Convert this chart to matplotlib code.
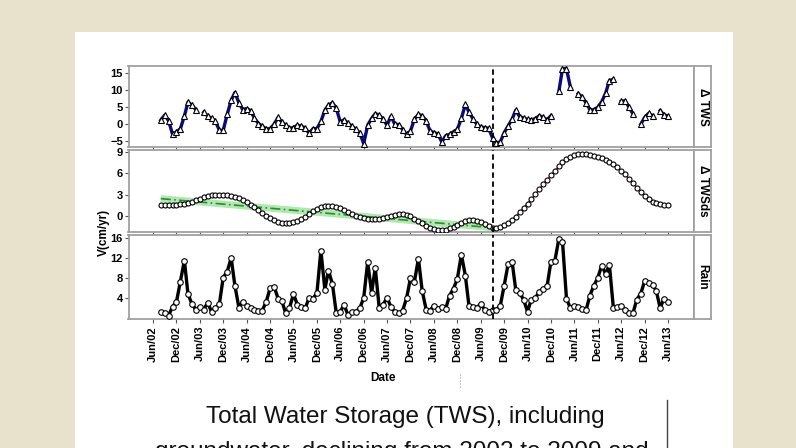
import numpy as np
import pandas as pd
import matplotlib
matplotlib.use("Agg")
import matplotlib.pyplot as plt
from matplotlib.patches import Rectangle
from matplotlib.lines import Line2D

plt.rcParams['font.family'] = ['Liberation Sans', 'DejaVu Sans']

# monthly series, Aug 2002 .. Jun 2013 (nan = missing month)
months = pd.date_range("2002-08-01", "2013-06-01", freq="MS")

tws = [1.2, 2.7, 1.0, -3.0, -2.3,
       -1.3, 2.4, 6.5, 5.6, 4.3, np.nan, 3.5, 2.5, 1.7, 0.9, -1.8, -1.8,
       2.9, 7.0, 9.3, 6.3, 4.3, 4.6, 4.0, 1.7, 0.2, -0.6, -1.4, -1.3,
       0.0, 2.0, 0.7, -0.3, -1.2, -1.0, -0.3, -0.6, -1.1, -2.7, -1.3, -1.3,
       0.8, 4.1, 5.6, 6.3, 4.7, 0.7, 1.3, 0.3, -0.6, -1.5, -2.6, -5.7,
       -0.3, 1.7, 3.1, 2.7, 1.5, -0.3, 2.3, 0.0, -0.1, -1.6, -3.0, -2.0,
       1.5, 2.9, 2.5, 1.0, -1.9, -2.5, -2.8, -5.2, -3.4, -3.0, -2.2, -1.5,
       1.7, 5.8, 3.6, 1.6, 0.0, -0.8, -1.0, -1.2, -4.0, -5.5, -5.2, -2.5,
       -0.5, 1.5, 4.1, 2.2, 1.8, 1.4, 1.3, 1.6, 2.5, 2.0, 1.3, 2.5,
       np.nan, 9.7, 16.3, 16.3, 11.0, np.nan, 9.0, 8.0, 6.3, 4.3, 4.2, 5.0,
       6.6, 9.2, 12.8, 13.2, np.nan, 6.7, 6.9, 5.0, 3.0, np.nan, 0.0, 2.0,
       3.2, 2.5, np.nan, 4.0, 2.7, 2.4]

tws_ds = [1.60, 1.60, 1.60, 1.60, 1.62,
          1.65, 1.72, 1.85, 2.02, 2.22, 2.42, 2.62, 2.80, 2.92, 3.00, 3.03, 3.02,
          2.97, 2.87, 2.72, 2.50, 2.25, 1.95, 1.62, 1.22, 0.82, 0.40, 0.02, -0.32,
          -0.60, -0.82, -0.96, -1.02, -1.00, -0.88, -0.68, -0.40, -0.08, 0.28, 0.65, 0.98,
          1.22, 1.38, 1.45, 1.42, 1.30, 1.10, 0.85, 0.58, 0.30, 0.06, -0.14, -0.30,
          -0.40, -0.45, -0.45, -0.40, -0.30, -0.15, 0.00, 0.14, 0.24, 0.25, 0.15, -0.06,
          -0.35, -0.70, -1.05, -1.38, -1.65, -1.85, -1.96, -1.98, -1.90, -1.73, -1.50, -1.22,
          -0.95, -0.72, -0.58, -0.55, -0.65, -0.85, -1.12, -1.40, -1.62, -1.70, -1.58, -1.32,
          -0.98, -0.58, -0.10, 0.55, 1.10, 1.75, 2.40, 3.05, 3.75, 4.45, 5.10, 5.75,
          6.40, 7.00, 7.55, 8.00, 8.35, 8.60, 8.75, 8.78, 8.72, 8.60, 8.45, 8.30,
          8.12, 7.90, 7.62, 7.28, 6.88, 6.40, 5.85, 5.25, 4.62, 4.00, 3.40, 2.85,
          2.38, 2.02, 1.78, 1.64, 1.57, 1.55]

rain = [1.2, 1.0, 0.5, 2.3, 3.2,
        7.3, 11.5, 4.8, 2.8, 1.7, 2.3, 1.7, 3.0, 1.3, 2.0, 2.8, 8.1,
        9.3, 12.0, 6.5, 2.1, 3.3, 2.5, 2.0, 1.7, 1.5, 1.5, 3.3, 6.0,
        6.3, 3.9, 3.5, 1.0, 2.0, 4.8, 2.7, 2.3, 2.0, 4.0, 3.9, 5.0,
        13.5, 5.7, 9.5, 6.8, 1.0, 1.3, 2.6, 0.6, 1.3, 1.3, 2.0, 4.0,
        11.2, 5.0, 10.1, 2.0, 2.7, 4.0, 2.3, 1.2, 1.0, 1.5, 4.0, 8.0,
        7.3, 11.9, 5.5, 1.7, 1.5, 2.5, 1.9, 2.2, 1.9, 4.5, 5.9, 7.9,
        12.7, 8.5, 2.5, 2.3, 2.1, 2.8, 1.7, 1.3, 1.6, 1.7, 2.5, 6.5,
        10.8, 11.2, 5.7, 5.0, 3.7, 1.3, 3.7, 4.0, 5.3, 5.9, 6.4, 11.3,
        11.5, 15.9, 15.3, 3.9, 2.0, 2.5, 2.3, 1.8, 1.6, 4.5, 6.5, 8.0,
        10.5, 8.8, 10.6, 2.0, 2.2, 2.5, 1.7, 1.1, 1.0, 3.7, 4.9, 7.4,
        7.1, 6.6, 5.5, 2.0, 3.9, 3.3]

# linear trend of TWSds over the declining period
trend_dates = pd.to_datetime(["2002-08-01", "2009-09-01"])
trend_vals = [2.45, -1.65]
break_date = pd.Timestamp("2009-09-01")

tick_dates = pd.date_range("2002-06-01", "2013-06-01", freq="6MS")
tick_labels = [d.strftime("%b/%y") for d in tick_dates]

W, H = 796, 448
fig = plt.figure(figsize=(W / 100, H / 100), dpi=100)
fig.patch.set_facecolor('#e8e2cc')
fig.patches.append(Rectangle((75 / W, 0), (733 - 75) / W, (448 - 32) / H,
                             transform=fig.transFigure, facecolor='white',
                             edgecolor='none', zorder=-10))

left, right = 128.5, 694
panels = [(66, 147), (150, 232), (235, 319)]
strips = ["\u0394 TWS", "\u0394 TWSds", "Rain"]
frame_col = '#a0a0a0'
xlim = (pd.Timestamp("2001-11-22"), pd.Timestamp("2013-12-21"))

axes = []
for (top, bot), lab in zip(panels, strips):
    ax = fig.add_axes([left / W, 1 - bot / H, (right - left) / W, (bot - top) / H])
    ax.set_zorder(2)
    for s in ax.spines.values():
        s.set_color(frame_col)
        s.set_linewidth(1.3)
    ax.set_xlim(xlim)
    ax.tick_params(axis='y', length=3, width=0.8, color='#555555', labelsize=8, pad=1)
    ax.tick_params(axis='x', length=3, width=0.8, color='#555555')
    ax.set_xticks(tick_dates)
    ax.set_xticklabels([])
    ax.axvline(break_date, color='black', ls=(0, (3, 2)), lw=1.3, zorder=5)
    sx = fig.add_axes([right / W, 1 - bot / H, 17 / W, (bot - top) / H])
    sx.set_zorder(2)
    sx.set_xticks([])
    sx.set_yticks([])
    for s in sx.spines.values():
        s.set_color(frame_col)
        s.set_linewidth(1.3)
    sx.text(0.5, 0.5, lab, rotation=-90, ha='center', va='center', fontsize=8.5,
            fontweight='bold', transform=sx.transAxes)
    axes.append(ax)

ax1, ax2, ax3 = axes

# panel 1: TWS anomalies
ax1.plot(months, tws, color='#0a0a80', lw=2.4, zorder=3)
ax1.plot(months, tws, ls='none', marker='^', ms=4.8, mfc='white', mec='black',
         mew=0.8, zorder=4)
ax1.set_ylim(-6.7, 17.1)
ax1.set_yticks([-5, 0, 5, 10, 15])

# panel 2: deseasonalised TWS with trend
ax2.plot(trend_dates, trend_vals, color='#8fe08f', lw=5, alpha=0.7, zorder=2,
         solid_capstyle='butt')
ax2.plot(trend_dates, trend_vals, color='#2e8b2e', lw=1.2, ls=(0, (6, 2, 1, 2)), zorder=3)
ax2.plot(months, tws_ds, color='#cc2020', lw=1.2, zorder=3)
ax2.plot(months, tws_ds, ls='none', marker='o', ms=3.6, mfc='white', mec='black',
         mew=0.8, zorder=4)
ax2.set_ylim(-2.25, 9.3)
ax2.set_yticks([0, 3, 6, 9])

# panel 3: rain
ax3.plot(months, rain, color='black', lw=2.4, zorder=3)
ax3.plot(months, rain, ls='none', marker='o', ms=4, mfc='white', mec='black',
         mew=0.8, zorder=4)
ax3.set_ylim(-0.2, 16.6)
ax3.set_yticks([4, 8, 12, 16])
ax3.set_xticklabels(tick_labels, rotation=90, fontsize=8)
ax3.tick_params(axis='x', pad=2)
ax3.set_xlabel("Date", fontsize=8.5, fontweight='bold')
ax3.xaxis.set_label_coords((383 - left) / (right - left), -(372 - 319) / (319 - 235))

for ax in axes:
    for t in ax.get_xticklabels() + ax.get_yticklabels():
        t.set_fontweight('bold')

fig.text(104 / W, 1 - 232 / H, "V(cm/yr)", rotation=90, ha='center', va='center',
         fontsize=8.5, fontweight='bold')

# caption below the chart
fig.text(405 / W, 1 - 417 / H, "Total Water Storage (TWS), including",
         ha='center', va='center', fontsize=17.5, color='#111111')
fig.text(402 / W, 1 - 452 / H, "groundwater, declining from 2002 to 2009 and",
         ha='center', va='center', fontsize=17.5, color='#111111')
fig.add_artist(Line2D([667 / W, 667 / W], [0, 1 - 400 / H], color='#444444', lw=1,
                      transform=fig.transFigure))
fig.add_artist(Line2D([460 / W, 460 / W], [1 - 387 / H, 1 - 372 / H], color='#999999',
                      lw=0.8, ls=':', transform=fig.transFigure))

fig.savefig("out.png", dpi=100, facecolor=fig.get_facecolor())
